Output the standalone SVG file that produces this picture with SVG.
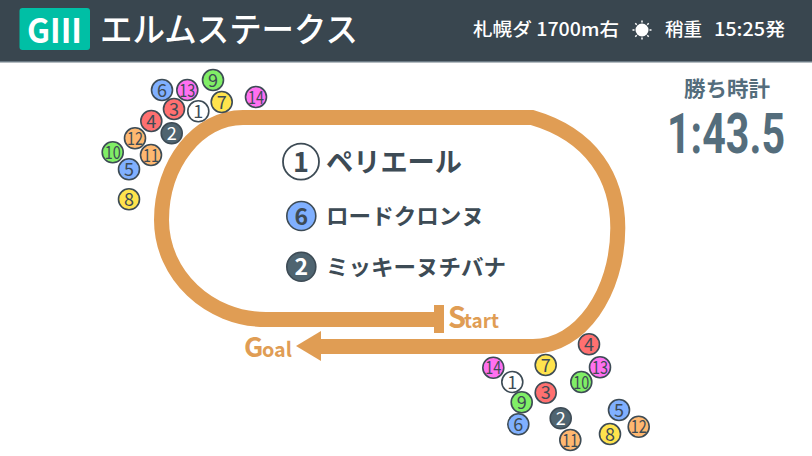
<svg xmlns="http://www.w3.org/2000/svg" width="812" height="456" viewBox="0 0 812 456">
<style>
text{font-family:"Noto Sans CJK JP","Noto Sans",sans-serif}
.c{stroke:#3d4b55;stroke-width:1.6}
.n{font-size:18px;text-anchor:middle;fill:#3d4b55}
.w{fill:#fff}.y{fill:#ffe34d}.g{fill:#80ee66}.b{fill:#80b0ff}.r{fill:#ff7070}.p{fill:#ff70f0}.o{fill:#ffb870}.d{fill:#4f6470}
.track{fill:none;stroke:#e09d54;stroke-width:15}
.o2{fill:#e09d54}
.name{font-weight:700;fill:#3d4b55}
</style>
<rect width="812" height="456" fill="#fff"/>
<g id="header">
<rect width="812" height="61" fill="#39464f"/>
<rect y="61" width="812" height="1.5" fill="#6b7a84"/>
<rect x="19.500" y="8" width="70.500" height="42" rx="3" fill="#00bfa5"/>
<text x="27" y="43" font-size="34" font-weight="700" fill="#fff" textLength="55" lengthAdjust="spacingAndGlyphs">GIII</text>
<text x="100" y="42" font-size="34" font-weight="500" fill="#fff" textLength="258" lengthAdjust="spacingAndGlyphs">エルムステークス</text>
<text x="473" y="36" font-size="18" font-weight="500" fill="#fff" textLength="146" lengthAdjust="spacingAndGlyphs">札幌ダ 1700m右</text>
<g id="sun" stroke="#fff" stroke-width="1.500">
<circle cx="642" cy="30" r="6.500" fill="#fff" stroke="none"/>
<path d="M642 20.500v2M642 37.500v2M632.500 30h2M649.500 30h2M635.300 23.300l1.400 1.400M647.300 35.300l1.400 1.400M635.300 36.700l1.400-1.400M647.300 24.700l1.400-1.400"/>
</g>
<text x="665" y="36" font-size="18" font-weight="500" fill="#fff" textLength="37" lengthAdjust="spacingAndGlyphs">稍重</text>
<text x="714" y="36" font-size="18" font-weight="500" fill="#fff" textLength="71" lengthAdjust="spacingAndGlyphs">15:25発</text>
</g>
<g id="time">
<text x="684" y="96" font-size="21" font-weight="700" fill="#546d7c" textLength="86" lengthAdjust="spacingAndGlyphs">勝ち時計</text>
<text x="667" y="153" font-size="55" font-weight="700" fill="#546d7c" style="font-family:Roboto,sans-serif" textLength="118" lengthAdjust="spacingAndGlyphs">1:43.5</text>
</g>
<g id="connectors">
<path class="track" d="M440 319.500H266C209 319.500 161.500 275 161.500 220C161.500 164 198 117.500 243 117.500H532C592 135 617.800 178 617.800 228C617.800 293 580 346.500 533 346.500H318"/>
<rect class="o2" x="434" y="305" width="10" height="28"/>
<path class="o2" d="M296 346L321 331V361Z"/>
</g>
<g id="labels">
<text x="448" y="328" font-size="29" font-weight="700" fill="#e09d54">S</text>
<text x="464" y="328" font-size="20" font-weight="700" fill="#e09d54" textLength="35" lengthAdjust="spacingAndGlyphs">tart</text>
<text x="244" y="357" font-size="27" font-weight="700" fill="#e09d54">G</text>
<text x="262" y="357" font-size="20" font-weight="700" fill="#e09d54" textLength="30" lengthAdjust="spacingAndGlyphs">oal</text>
</g>
<g id="rank1"><circle cx="301" cy="161.700" r="18" fill="#fff" stroke="#3d4b55" stroke-width="1.800"/><text x="301" y="171.500" font-size="27" font-weight="700" fill="#3d4b55" text-anchor="middle">1</text><text class="name" x="326" y="172" font-size="27" textLength="136" lengthAdjust="spacingAndGlyphs">ペリエール</text></g>
<g id="rank2"><circle cx="301.300" cy="216" r="14.500" class="b" stroke="#3d4b55" stroke-width="1.600"/><text x="301.300" y="224.500" font-size="23" font-weight="700" fill="#3d4b55" text-anchor="middle">6</text><text class="name" x="326" y="224" font-size="22" textLength="158" lengthAdjust="spacingAndGlyphs">ロードクロンヌ</text></g>
<g id="rank3"><circle cx="301.300" cy="266.700" r="14.500" class="d" stroke="#3d4b55" stroke-width="1.600"/><text x="301.300" y="275" font-size="23" font-weight="700" fill="#fff" text-anchor="middle">2</text><text class="name" x="326" y="275" font-size="22" textLength="180" lengthAdjust="spacingAndGlyphs">ミッキーヌチバナ</text></g>
<g id="corner-start">
<g id="a6"><circle class="c b" cx="162" cy="90" r="10.500"/><text class="n" x="162" y="96.500">6</text></g>
<g id="a13"><circle class="c p" cx="187.300" cy="90" r="10.500"/><text class="n" x="187.300" y="96.500" textLength="16" lengthAdjust="spacingAndGlyphs">13</text></g>
<g id="a9"><circle class="c g" cx="213" cy="80" r="10.500"/><text class="n" x="213" y="86.500">9</text></g>
<g id="a7"><circle class="c y" cx="221.700" cy="102" r="10.500"/><text class="n" x="221.700" y="108.500">7</text></g>
<g id="a14"><circle class="c p" cx="256" cy="97" r="10.500"/><text class="n" x="256" y="103.500" textLength="16" lengthAdjust="spacingAndGlyphs">14</text></g>
<g id="a3"><circle class="c r" cx="174" cy="109" r="10.500"/><text class="n" x="174" y="115.500">3</text></g>
<g id="a1"><circle class="c w" cx="198.300" cy="111.300" r="10.500"/><text class="n" x="198.300" y="117.800">1</text></g>
<g id="a4"><circle class="c r" cx="151.300" cy="121" r="10.500"/><text class="n" x="151.300" y="127.500">4</text></g>
<g id="a2"><circle class="c d" cx="171.700" cy="133.300" r="10.500"/><text class="n" x="171.700" y="139.800" style="fill:#fff">2</text></g>
<g id="a12"><circle class="c o" cx="135" cy="138.300" r="10.500"/><text class="n" x="135" y="144.800" textLength="16" lengthAdjust="spacingAndGlyphs">12</text></g>
<g id="a11"><circle class="c o" cx="151" cy="155" r="10.500"/><text class="n" x="151" y="161.500" textLength="16" lengthAdjust="spacingAndGlyphs">11</text></g>
<g id="a10"><circle class="c g" cx="112.700" cy="152.300" r="10.500"/><text class="n" x="112.700" y="158.800" textLength="16" lengthAdjust="spacingAndGlyphs">10</text></g>
<g id="a5"><circle class="c b" cx="129" cy="169.300" r="10.500"/><text class="n" x="129" y="175.800">5</text></g>
<g id="a8"><circle class="c y" cx="129" cy="199.300" r="10.500"/><text class="n" x="129" y="205.800">8</text></g>
</g>
<g id="corner-end">
<g id="b4"><circle class="c r" cx="589" cy="344.300" r="10.500"/><text class="n" x="589" y="350.800">4</text></g>
<g id="b13"><circle class="c p" cx="600" cy="367.300" r="10.500"/><text class="n" x="600" y="373.800" textLength="16" lengthAdjust="spacingAndGlyphs">13</text></g>
<g id="b10"><circle class="c g" cx="581.300" cy="382" r="10.500"/><text class="n" x="581.300" y="388.500" textLength="16" lengthAdjust="spacingAndGlyphs">10</text></g>
<g id="b7"><circle class="c y" cx="545.700" cy="365" r="10.500"/><text class="n" x="545.700" y="371.500">7</text></g>
<g id="b14"><circle class="c p" cx="493.300" cy="367.700" r="10.500"/><text class="n" x="493.300" y="374.200" textLength="16" lengthAdjust="spacingAndGlyphs">14</text></g>
<g id="b1"><circle class="c w" cx="512.300" cy="382" r="10.500"/><text class="n" x="512.300" y="388.500">1</text></g>
<g id="b3"><circle class="c r" cx="545.700" cy="392.700" r="10.500"/><text class="n" x="545.700" y="399.200">3</text></g>
<g id="b9"><circle class="c g" cx="521.700" cy="402.300" r="10.500"/><text class="n" x="521.700" y="408.800">9</text></g>
<g id="b6"><circle class="c b" cx="518.300" cy="424.300" r="10.500"/><text class="n" x="518.300" y="430.800">6</text></g>
<g id="b2"><circle class="c d" cx="560.700" cy="418.300" r="10.500"/><text class="n" x="560.700" y="424.800" style="fill:#fff">2</text></g>
<g id="b11"><circle class="c o" cx="570.300" cy="440" r="10.500"/><text class="n" x="570.300" y="446.500" textLength="16" lengthAdjust="spacingAndGlyphs">11</text></g>
<g id="b5"><circle class="c b" cx="619" cy="410" r="10.500"/><text class="n" x="619" y="416.500">5</text></g>
<g id="b8"><circle class="c y" cx="610" cy="434" r="10.500"/><text class="n" x="610" y="440.500">8</text></g>
<g id="b12"><circle class="c o" cx="638.700" cy="426.700" r="10.500"/><text class="n" x="638.700" y="433.200" textLength="16" lengthAdjust="spacingAndGlyphs">12</text></g>
</g>
</svg>
